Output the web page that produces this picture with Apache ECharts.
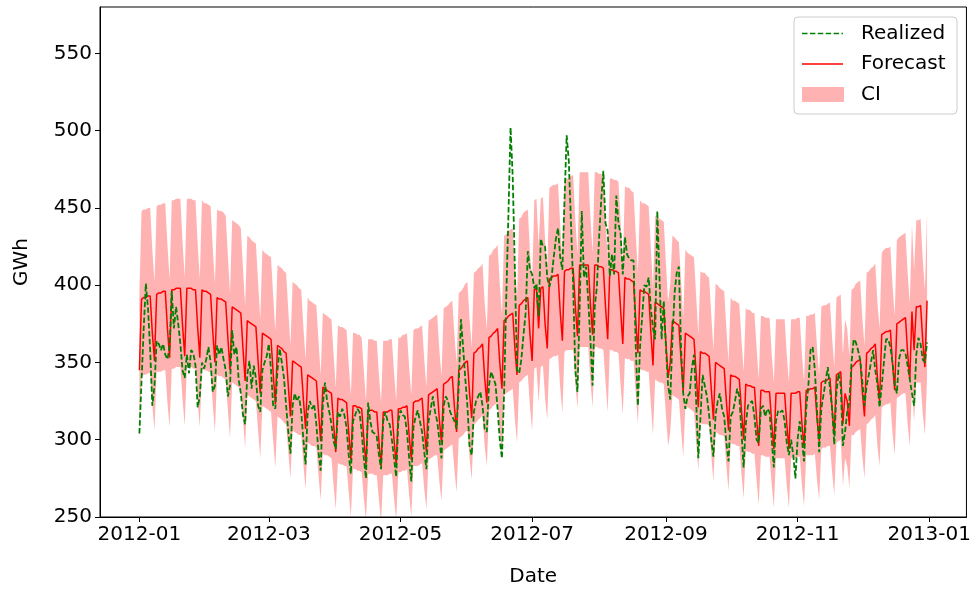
<!DOCTYPE html>
<html>
<head>
<meta charset="utf-8">
<script src="https://cdn.jsdelivr.net/npm/echarts@6/dist/echarts.min.js"></script>
<style>
  html, body { margin: 0; padding: 0; background: #ffffff; }
  #chart { width: 974px; height: 592px; }
</style>
</head>
<body>
<div id="chart"></div>
<script>
// Daily electricity demand in 2012 (GWh): realized load, forecast and its confidence interval.
const firstDate = '2012-01-01';
const DAY = 86400000;

// Realized daily demand, one row per week (Sunday .. Saturday)
const realized = [
  304,338,372,401,385,358,322,
  335,364,362,358,362,355,352,
  360,396,372,386,375,362,345,
  340,355,343,358,356,348,321,
  328,350,346,352,360,350,331,
  335,361,355,360,352,345,328,
  335,371,355,360,339,330,316,
  310,342,351,333,348,340,322,
  318,345,350,354,362,345,322,
  320,345,359,350,340,322,305,
  291,322,330,325,328,318,300,
  284,318,325,320,323,310,292,
  280,322,337,325,318,310,299,
  294,318,315,320,316,308,290,
  278,312,316,320,318,305,288,
  275,324,312,305,304,302,290,
  281,312,318,312,310,300,288,
  276,312,319,316,315,305,288,
  273,308,315,319,312,305,292,
  281,312,320,328,318,312,300,
  288,322,328,325,318,315,312,
  307,335,378,360,340,322,296,
  290,318,325,328,331,322,307,
  305,335,344,340,336,320,300,
  288,330,392,445,502,470,410,
  345,343,352,368,382,422,410,
  407,398,401,380,430,425,425,
  405,399,405,418,430,437,418,
  410,455,497,480,440,400,345,
  331,385,448,405,412,390,365,
  335,386,399,430,455,474,440,
  435,406,420,407,458,440,433,
  407,431,420,417,416,416,361,
  322,360,380,400,399,405,385,
  372,365,448,405,365,390,360,
  335,326,365,395,408,412,360,
  330,320,328,330,346,355,325,
  288,315,342,335,328,316,300,
  289,316,325,330,320,315,298,
  286,315,318,325,333,328,305,
  282,310,322,324,325,315,300,
  298,320,322,315,320,318,300,
  282,312,319,318,319,312,298,
  290,300,290,275,300,312,300,
  286,320,335,358,360,345,320,
  292,320,329,338,347,333,320,
  297,330,343,335,296,305,318,
  325,350,365,363,358,352,338,
  322,335,342,350,358,345,336,
  321,335,350,365,365,360,350,
  336,330,352,358,358,356,348,
  339,330,322,355,366,362,352,
  350,363
];

// Forecast daily demand
const forecast = [
  345,391,392,392,393,393,369,
  351,394,395,395,396,396,372,
  353,397,397,398,398,398,374,
  354,398,398,398,397,397,373,
  353,397,396,396,395,394,370,
  350,392,391,391,390,389,366,
  345,386,385,384,383,382,359,
  338,377,376,375,374,373,351,
  330,369,368,367,366,365,343,
  323,361,360,359,357,356,335,
  315,351,350,349,348,347,326,
  307,342,341,340,339,338,318,
  299,334,333,332,331,330,310,
  292,327,326,326,325,324,305,
  287,322,322,321,321,320,301,
  284,319,319,319,318,318,299,
  283,318,318,318,319,319,300,
  284,320,320,321,321,322,303,
  287,324,325,325,326,327,307,
  292,329,330,331,332,333,313,
  298,336,337,338,340,341,321,
  305,345,346,348,350,351,330,
  314,356,357,359,360,362,340,
  324,366,367,369,370,372,350,
  333,377,378,380,381,382,359,
  342,387,388,390,391,392,368,
  351,397,398,372,398,399,375,
  359,404,405,406,406,407,383,
  364,409,410,410,411,411,387,
  367,413,413,413,413,413,388,
  368,413,413,412,412,411,386,
  365,410,410,409,409,408,384,
  362,405,404,404,403,402,378,
  356,397,396,396,395,394,370,
  348,389,388,387,386,385,362,
  340,350,377,376,375,374,352,
  331,369,368,367,366,365,343,
  321,357,356,356,355,354,333,
  313,350,349,348,347,346,325,
  306,342,341,341,340,339,319,
  300,336,335,335,334,334,314,
  296,332,332,331,331,331,311,
  294,330,330,330,330,330,310,
  294,330,330,330,331,331,311,
  295,332,332,333,333,334,314,
  299,337,338,338,339,340,320,
  303,342,343,344,310,330,325,
  309,347,348,350,351,352,331,
  315,356,357,359,360,362,340,
  325,368,369,370,370,371,349,
  332,375,376,377,378,379,356,
  339,383,358,386,386,387,364,
  347,390
];

// Lower bound of the confidence interval
const ciLower = [
  301,341,342,342,343,343,322,
  306,344,344,344,345,345,324,
  308,346,346,347,347,347,326,
  309,347,347,347,346,346,325,
  308,346,345,345,344,344,323,
  305,342,341,341,340,339,319,
  301,337,336,335,334,333,313,
  295,329,328,327,326,325,306,
  288,322,321,320,319,318,299,
  282,315,314,313,311,310,292,
  275,306,305,304,303,303,284,
  268,298,297,296,296,295,277,
  261,291,290,290,289,288,270,
  255,285,284,284,283,283,266,
  250,281,281,280,280,279,262,
  248,278,278,278,277,277,261,
  247,277,277,277,278,278,262,
  248,279,279,280,280,281,264,
  250,283,283,283,284,285,268,
  255,287,288,289,290,290,273,
  260,293,294,295,296,297,280,
  266,301,302,303,305,306,288,
  274,310,311,313,314,316,296,
  283,319,320,322,323,324,305,
  290,329,330,331,332,333,313,
  298,337,338,340,341,342,321,
  306,346,347,324,347,348,327,
  313,352,353,354,354,355,334,
  317,357,358,358,358,358,337,
  320,360,360,360,360,360,338,
  321,360,360,359,359,358,337,
  318,358,358,357,357,356,335,
  316,353,352,352,351,351,330,
  310,346,345,345,344,344,323,
  303,339,338,337,337,336,316,
  296,305,329,328,327,326,307,
  289,322,321,320,319,318,299,
  280,311,310,310,310,309,290,
  273,305,304,303,303,302,283,
  267,298,297,297,296,296,278,
  262,293,292,292,291,291,274,
  258,290,290,289,289,289,271,
  256,288,288,288,288,288,270,
  256,288,288,288,289,289,271,
  257,290,290,290,290,291,274,
  261,294,295,295,296,296,279,
  264,298,299,300,270,288,283,
  269,303,303,305,306,307,289,
  275,310,311,313,314,316,296,
  283,321,322,323,323,324,304,
  290,327,328,329,330,330,310,
  296,334,312,337,337,337,317,
  303,340
];

// Upper bound of the confidence interval
const ciUpper = [
  395,448,449,449,450,450,423,
  402,451,452,452,453,453,426,
  404,455,455,456,456,456,428,
  405,456,456,456,455,455,427,
  404,455,453,453,452,451,424,
  401,449,448,448,447,445,419,
  395,442,441,440,439,437,411,
  387,432,431,429,428,427,402,
  378,423,421,420,419,418,393,
  370,413,412,411,409,408,384,
  361,402,401,400,398,397,373,
  352,392,390,389,388,387,364,
  342,382,381,380,379,378,355,
  334,374,373,373,372,371,349,
  329,369,369,368,368,366,345,
  325,365,365,365,364,364,342,
  324,364,364,364,365,365,344,
  325,366,366,368,368,369,347,
  329,371,372,372,373,374,352,
  334,377,378,379,380,381,358,
  341,385,386,387,389,390,368,
  349,395,396,398,401,402,378,
  360,408,409,411,412,414,389,
  371,419,420,423,424,426,401,
  381,432,433,435,436,437,411,
  392,443,444,447,448,449,421,
  402,455,456,426,456,457,429,
  411,463,464,465,465,466,439,
  417,468,469,469,471,471,443,
  420,473,473,473,473,473,444,
  421,473,473,472,472,471,442,
  418,469,469,468,468,467,440,
  414,464,463,463,461,460,433,
  408,455,453,453,452,451,424,
  398,445,444,443,442,441,414,
  389,401,432,431,429,428,403,
  379,423,421,420,419,418,393,
  368,409,408,408,406,405,381,
  358,401,400,398,397,396,372,
  350,392,390,390,389,388,365,
  344,385,384,384,382,382,360,
  339,380,380,379,379,379,356,
  337,378,378,378,378,378,355,
  337,378,378,378,379,379,356,
  338,380,380,381,381,382,360,
  342,386,387,387,388,389,366,
  347,392,393,394,355,378,372,
  354,397,398,401,402,403,379,
  361,408,409,411,412,414,389,
  372,421,423,424,424,425,400,
  380,429,431,432,433,434,408,
  388,439,410,442,442,443,417,
  397,447
];

// Axis ticks
const xTickDates = ['2012-01-01', '2012-03-01', '2012-05-01', '2012-07-01', '2012-09-01', '2012-11-01', '2013-01-01'];
const xTickLabels = ['2012-01', '2012-03', '2012-05', '2012-07', '2012-09', '2012-11', '2013-01'];
const yTicks = [250, 300, 350, 400, 450, 500, 550];

const t0 = Date.parse(firstDate);
const dates = forecast.map((_, i) => t0 + i * DAY);
const lastDate = dates[dates.length - 1];
const pad = (lastDate - t0) * 0.05;

const xTickValues = xTickDates.map(d => Date.parse(d));
const xLabelOf = {};
xTickValues.forEach((v, i) => { xLabelOf[v] = xTickLabels[i]; });

const pairs = arr => arr.map((v, i) => [dates[i], v]);
const bandRows = dates.map((d, i) => [d, ciLower[i], ciUpper[i]]);

// The interval is drawn as one filled polygon: along the upper bound, back along the lower bound
function renderBand(params, api) {
  if (params.dataIndex !== 0) return null;
  const upperPts = bandRows.map(r => api.coord([r[0], r[2]]));
  const lowerPts = bandRows.map(r => api.coord([r[0], r[1]])).reverse();
  const cs = params.coordSys;
  return {
    type: 'polygon',
    shape: { points: upperPts.concat(lowerPts) },
    style: { fill: 'rgba(255,0,0,0.3)', stroke: null },
    clipPath: { type: 'rect', shape: { x: cs.x, y: cs.y, width: cs.width, height: cs.height } },
    silent: true
  };
}

const FONT = 'DejaVu Sans';
const chart = echarts.init(document.getElementById('chart'), null, { renderer: 'canvas' });

chart.setOption({
  animation: false,
  backgroundColor: '#ffffff',
  grid: {
    left: 100, top: 7, width: 868, height: 516,
    show: true, borderColor: '#000000', borderWidth: 1, backgroundColor: 'transparent'
  },
  xAxis: {
    type: 'value',
    min: t0 - pad,
    max: lastDate + pad,
    name: 'Date',
    nameLocation: 'middle',
    nameGap: 50,
    nameTextStyle: { fontFamily: FONT, fontSize: 20, color: '#000000' },
    axisLine: { show: true, onZero: false, lineStyle: { color: '#000000', width: 1 } },
    axisTick: { show: true, length: 5, lineStyle: { color: '#000000' }, customValues: xTickValues },
    axisLabel: {
      customValues: xTickValues,
      formatter: v => xLabelOf[v] || '',
      fontFamily: FONT, fontSize: 20, color: '#000000', margin: 8
    },
    splitLine: { show: false }
  },
  yAxis: {
    type: 'value',
    min: 250,
    max: 580,
    name: 'GWh',
    nameLocation: 'middle',
    nameGap: 68,
    nameTextStyle: { fontFamily: FONT, fontSize: 20, color: '#000000' },
    axisLine: { show: true, onZero: false, lineStyle: { color: '#000000', width: 1 } },
    axisTick: { show: true, length: 5, lineStyle: { color: '#000000' }, customValues: yTicks },
    axisLabel: {
      customValues: yTicks,
      fontFamily: FONT, fontSize: 20, color: '#000000', margin: 8
    },
    splitLine: { show: false }
  },
  series: [
    {
      name: 'CI',
      type: 'custom',
      renderItem: renderBand,
      data: bandRows,
      encode: { x: 0, y: [1, 2] },
      silent: true,
      z: 1
    },
    {
      name: 'Forecast',
      type: 'line',
      data: pairs(forecast),
      symbol: 'none',
      lineStyle: { color: '#ff0000', width: 1.5 },
      z: 3
    },
    {
      name: 'Realized',
      type: 'line',
      data: pairs(realized),
      symbol: 'none',
      lineStyle: { color: '#008000', width: 1.8, type: [5.5, 2.4] },
      z: 4
    }
  ],
  graphic: [
    {
      type: 'group',
      z: 100,
      children: [
        { type: 'rect', shape: { x: 794, y: 17, width: 163, height: 97, r: 4 },
          style: { fill: 'rgba(255,255,255,0.8)', stroke: '#cccccc', lineWidth: 1 } },
        { type: 'line', shape: { x1: 802, y1: 33.5, x2: 843, y2: 33.5 },
          style: { stroke: '#008000', lineWidth: 1.5, lineDash: [5.5, 2.4] } },
        { type: 'line', shape: { x1: 802, y1: 64, x2: 843, y2: 64 },
          style: { stroke: '#ff0000', lineWidth: 1.5 } },
        { type: 'rect', shape: { x: 802, y: 87, width: 42, height: 15 },
          style: { fill: 'rgba(255,0,0,0.3)' } },
        { type: 'text', x: 861, y: 34,
          style: { text: 'Realized', font: '20px "DejaVu Sans"', fill: '#000000', verticalAlign: 'middle' } },
        { type: 'text', x: 861, y: 64,
          style: { text: 'Forecast', font: '20px "DejaVu Sans"', fill: '#000000', verticalAlign: 'middle' } },
        { type: 'text', x: 861, y: 95,
          style: { text: 'CI', font: '20px "DejaVu Sans"', fill: '#000000', verticalAlign: 'middle' } }
      ]
    }
  ]
});
</script>
</body>
</html>
